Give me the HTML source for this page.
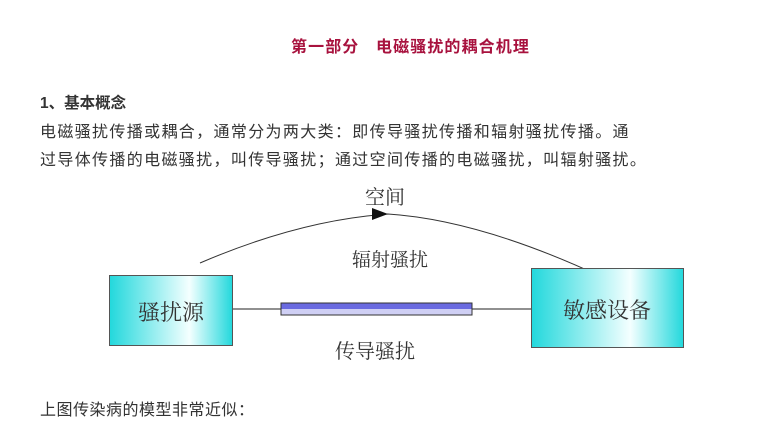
<!DOCTYPE html>
<html><head><meta charset="utf-8"><style>
body{margin:0;width:782px;height:434px;background:#fff;overflow:hidden;position:relative;font-family:"Liberation Sans","Noto Sans CJK SC",sans-serif;color:#333}
.t{position:absolute;white-space:nowrap}
</style></head><body>
<div class="t" style="left:291px;top:33px;font-size:16px;font-weight:bold;color:#a8123e;letter-spacing:1.1px">第一部分&nbsp;&nbsp;&nbsp;电磁骚扰的耦合机理</div>
<div class="t" style="left:40px;top:91px;font-size:15.5px;font-weight:bold;color:#333">1、基本概念</div>
<div class="t" style="left:40px;top:118px;font-size:16px;letter-spacing:1.35px">电磁骚扰传播或耦合，通常分为两大类：即传导骚扰传播和辐射骚扰传播。通</div>
<div class="t" style="left:40px;top:146px;font-size:16px;letter-spacing:1.35px">过导体传播的电磁骚扰，叫传导骚扰；通过空间传播的电磁骚扰，叫辐射骚扰。</div>
<svg width="782" height="434" style="position:absolute;left:0;top:0">
<defs>
<linearGradient id="g" x1="0" x2="1"><stop offset="0" stop-color="#22d8dc"/><stop offset="0.65" stop-color="#f4ffff"/><stop offset="1" stop-color="#22d8dc"/></linearGradient>
<linearGradient id="b" x1="0" y1="0" x2="0" y2="1"><stop offset="0.5" stop-color="#6a6ae0"/><stop offset="0.5" stop-color="#cfcff4"/></linearGradient>
</defs>
<path d="M200 263 Q300 220 388 214 Q480 220 602 277" fill="none" stroke="#333" stroke-width="1"/>
<polygon points="372,208 388,214 372,220" fill="#111"/>
<line x1="233" y1="309" x2="531" y2="309" stroke="#222" stroke-width="1"/>
<rect x="281" y="303" width="191" height="12" fill="url(#b)" stroke="#333" stroke-width="1"/>
<rect x="109.5" y="275.5" width="123" height="70" fill="url(#g)" stroke="#555"/>
<rect x="531.5" y="268.5" width="152" height="79" fill="url(#g)" stroke="#555"/>
<g font-family="Liberation Serif,Noto Serif CJK SC,serif" fill="#333">
<text x="385" y="204" font-size="20" text-anchor="middle">空间</text>
<text x="390" y="266" font-size="19" text-anchor="middle">辐射骚扰</text>
<text x="375" y="358" font-size="20" text-anchor="middle">传导骚扰</text>
<text x="171" y="320" font-size="22" text-anchor="middle">骚扰源</text>
<text x="607" y="318" font-size="22" text-anchor="middle">敏感设备</text>
</g>
</svg>
<div class="t" style="left:40px;top:396px;font-size:16px;letter-spacing:0.5px">上图传染病的模型非常近似：</div>
</body></html>
